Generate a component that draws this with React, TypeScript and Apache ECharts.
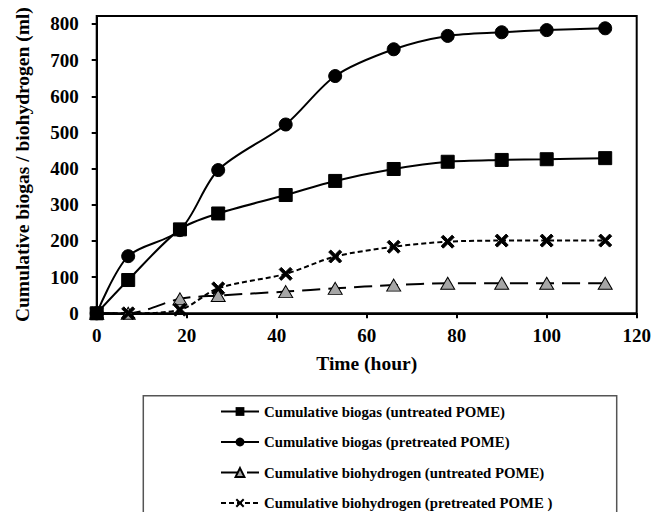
import React, { useEffect, useRef } from 'react';
import * as echarts from 'echarts';

const seriesNames = [
  'Cumulative biogas (untreated POME)',
  'Cumulative biogas (pretreated POME)',
  'Cumulative biohydrogen (untreated POME)',
  'Cumulative biohydrogen (pretreated POME )',
];
const xHours = [0, 7, 18.5, 27, 42, 53, 66, 78, 90, 100, 113];
const biogasUntreated = [0, 92, 232, 276, 327, 366, 399, 419, 424, 426, 429];
const biogasPretreated = [0, 158, 230, 396, 522, 656, 730, 767, 777, 783, 788];
const hydrogenUntreated = [0, 0, 40, 49, 60, 69, 78, 83, 83, 83, 83];
const hydrogenPretreated = [0, 0, 10, 69, 109, 157, 184, 198, 201, 201, 201];
const yTicks = [0, 100, 200, 300, 400, 500, 600, 700, 800];

const FONT = "'Liberation Serif', 'Times New Roman', serif";
const CROSS =
  'path://M0,1.6 L1.6,0 L5,3.4 L8.4,0 L10,1.6 L6.6,5 L10,8.4 L8.4,10 L5,6.6 L1.6,10 L0,8.4 L3.4,5 Z';

export default function App() {
  const ref = useRef<HTMLDivElement>(null);
  useEffect(() => {
    const chart = echarts.init(ref.current!, null, { renderer: 'svg' });
    const pair = (ys: number[]) => xHours.map((x, i) => [x, ys[i]]);
    chart.setOption({
      animation: false,
      backgroundColor: '#fff',
      textStyle: { fontFamily: FONT, fontWeight: 'bold', color: '#000' },
      grid: {
        left: 96.7,
        right: 19.3,
        top: 16,
        bottom: 198.7,
        show: true,
        borderColor: '#000',
        borderWidth: 2,
        backgroundColor: 'transparent',
      },
      xAxis: {
        type: 'value',
        min: 0,
        max: 120,
        interval: 20,
        name: 'Time (hour)',
        nameLocation: 'middle',
        nameGap: 40,
        nameTextStyle: { fontFamily: FONT, fontWeight: 'bold', fontSize: 19.5, color: '#000' },
        axisLine: { lineStyle: { color: '#000', width: 2 } },
        axisTick: { show: true, length: 5, lineStyle: { color: '#000', width: 2 } },
        axisLabel: {
          fontFamily: FONT,
          fontWeight: 'bold',
          fontSize: 19,
          color: '#000',
          margin: 13,
        },
        splitLine: { show: false },
      },
      yAxis: {
        type: 'value',
        min: 0,
        max: 822,
        interval: 100,
        name: 'Cumulative biogas / biohydrogen (ml)',
        nameLocation: 'middle',
        nameGap: 64,
        nameTextStyle: { fontFamily: FONT, fontWeight: 'bold', fontSize: 19.5, color: '#000' },
        axisLine: { show: true, lineStyle: { color: '#000', width: 2 } },
        axisTick: { show: true, length: 5, lineStyle: { color: '#000', width: 2 }, customValues: yTicks },
        axisLabel: {
          fontFamily: FONT,
          fontWeight: 'bold',
          fontSize: 19,
          color: '#000',
          margin: 18,
          customValues: yTicks,
        },
        splitLine: { show: false },
      },
      legend: {
        orient: 'vertical',
        left: 220,
        top: 404,
        height: 140,
        itemWidth: 38,
        itemHeight: 11,
        itemGap: 15.5,
        padding: 0,
        textStyle: { fontFamily: FONT, fontWeight: 'bold', fontSize: 14.8, color: '#000' },
        data: seriesNames,
      },
      graphic: [
        {
          type: 'rect',
          shape: { x: 143.3, y: 395.7, width: 473.4, height: 140 },
          style: { fill: 'none', stroke: '#555', lineWidth: 1.5 },
          silent: true,
        },
      ],
      series: [
        {
          name: seriesNames[0],
          type: 'line',
          data: pair(biogasUntreated),
          smooth: 0.3,
          symbol: 'rect',
          symbolSize: 13,
          z: 4,
          lineStyle: { color: '#000', width: 2 },
          itemStyle: { color: '#000', borderColor: '#000' },
        },
        {
          name: seriesNames[1],
          type: 'line',
          data: pair(biogasPretreated),
          smooth: 0.3,
          symbol: 'circle',
          symbolSize: 13,
          z: 3,
          lineStyle: { color: '#000', width: 2 },
          itemStyle: { color: '#000', borderColor: '#000' },
        },
        {
          name: seriesNames[2],
          type: 'line',
          data: pair(hydrogenUntreated),
          smooth: 0.3,
          symbol: 'triangle',
          symbolSize: [14, 12],
          z: 2,
          lineStyle: { color: '#000', width: 2, type: [18, 8] },
          itemStyle: { color: '#a6a6a6', borderColor: '#000', borderWidth: 1 },
        },
        {
          name: seriesNames[3],
          type: 'line',
          data: pair(hydrogenPretreated),
          smooth: 0.3,
          symbol: CROSS,
          symbolSize: 13,
          z: 2,
          lineStyle: { color: '#000', width: 2, type: [5, 3] },
          itemStyle: { color: '#000', borderColor: '#000' },
        },
      ],
    });
    return () => chart.dispose();
  }, []);
  return (
    <div
      ref={ref}
      style={{ position: 'fixed', left: 0, top: 0, width: 656, height: 512 }}
    />
  );
}
